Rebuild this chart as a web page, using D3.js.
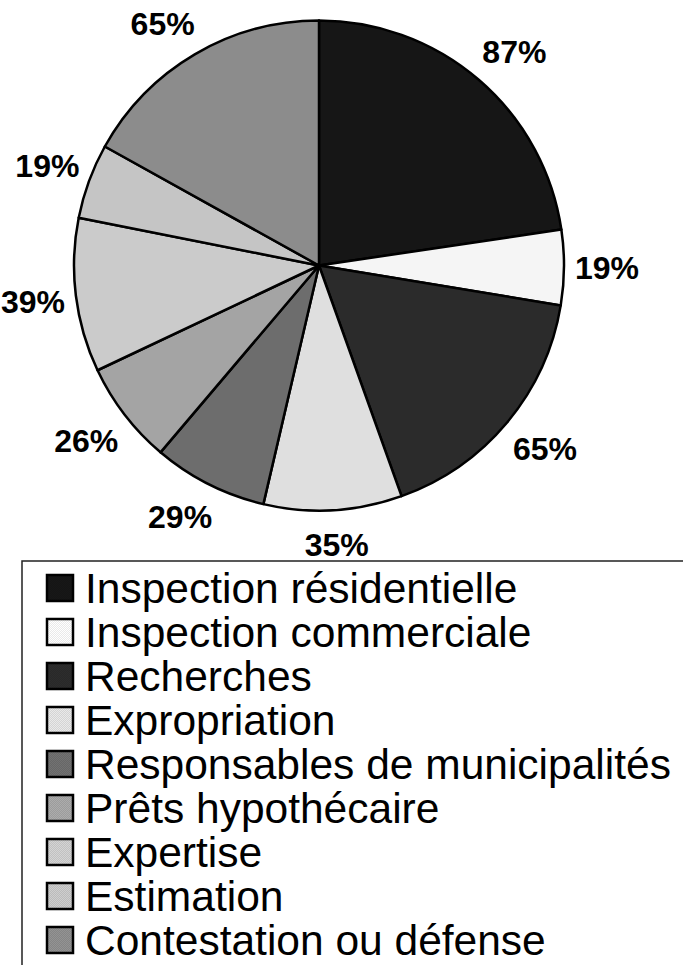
<!DOCTYPE html>
<html><head><meta charset="utf-8">
<script src="https://cdn.jsdelivr.net/npm/d3@7"></script>
<style>html,body{margin:0;padding:0;background:#fff;}svg{display:block;}</style>
</head><body>
<script>
const categories = ["Inspection résidentielle","Inspection commerciale","Recherches","Expropriation","Responsables de municipalités","Prêts hypothécaire","Expertise","Estimation","Contestation ou défense"];
const values = [87,19,65,35,29,26,39,19,65];
const labels = ["87%","19%","65%","35%","29%","26%","39%","19%","65%"];
const fills = ["#161616","#f4f4f4","#2b2b2b","#dddddd","#6c6c6c","#a3a3a3","#c9c9c9","#c3c3c3","#8b8b8b"];

const W = 683, H = 965;
const svg = d3.select("body").append("svg").attr("width", W).attr("height", H);
svg.append("rect").attr("width", W).attr("height", H).attr("fill", "#fff");

// dither-like patterns
const defs = svg.append("defs");
fills.forEach((f, i) => {
  const c = d3.color(f);
  const p = defs.append("pattern").attr("id", "pat" + i)
    .attr("patternUnits", "userSpaceOnUse").attr("width", 2).attr("height", 2);
  p.append("rect").attr("width", 2).attr("height", 2).attr("fill", c.darker(0.12).formatHex());
  p.append("rect").attr("width", 1).attr("height", 1).attr("fill", c.brighter(0.15).formatHex());
  p.append("rect").attr("x", 1).attr("y", 1).attr("width", 1).attr("height", 1).attr("fill", c.brighter(0.15).formatHex());
});

const cx = 319, cy = 265.5, r = 245;
const data = categories.map((c, i) => ({cat: c, value: values[i], label: labels[i], idx: i}));
const pie = d3.pie().value(d => d.value).sort(null);
const arcs = pie(data);
const arc = d3.arc().innerRadius(0).outerRadius(r);

const g = svg.append("g").attr("transform", `translate(${cx},${cy})`);
g.selectAll("path").data(arcs).join("path")
  .attr("d", arc)
  .attr("fill", d => `url(#pat${d.data.idx})`)
  .attr("stroke", "#000")
  .attr("stroke-width", 2.5)
  .attr("stroke-linejoin", "round");

const clamp = v => Math.max(-1, Math.min(1, v));
const r0 = 267, hw = 21, hh = 12;
g.selectAll("text").data(arcs).join("text")
  .each(function(d) {
    const a = (d.startAngle + d.endAngle) / 2;
    const sx = Math.sin(a), cyy = -Math.cos(a);
    const x = r0 * sx + hw * clamp(2 * sx);
    const y = r0 * cyy + hh * clamp(2 * cyy);
    d3.select(this).attr("x", x).attr("y", y).attr("dy", "0.36em");
  })
  .attr("text-anchor", "middle")
  .attr("font-family", "Arial, 'Liberation Sans', sans-serif")
  .attr("font-weight", "bold")
  .attr("font-size", 32)
  .attr("fill", "#000")
  .text(d => d.data.label);

// Legend
const lg = svg.append("g");
lg.append("rect").attr("x", 22).attr("y", 561).attr("width", 700).attr("height", 420)
  .attr("fill", "none").attr("stroke", "#222").attr("stroke-width", 1.5);
const rowY = d3.scalePoint().domain(categories).range([588, 588 + 44 * 8]);
const items = lg.selectAll("g.item").data(data).join("g").attr("class", "item")
  .attr("transform", d => `translate(0,${rowY(d.cat)})`);
items.append("rect").attr("x", 47).attr("y", -13).attr("width", 26).attr("height", 26)
  .attr("fill", d => `url(#pat${d.idx})`).attr("stroke", "#000").attr("stroke-width", 2.5);
items.append("text").attr("x", 85).attr("y", 14.5)
  .attr("font-family", "Arial, 'Liberation Sans', sans-serif")
  .attr("font-size", 42.5).attr("fill", "#000")
  .text(d => d.cat);
</script>
</body></html>
